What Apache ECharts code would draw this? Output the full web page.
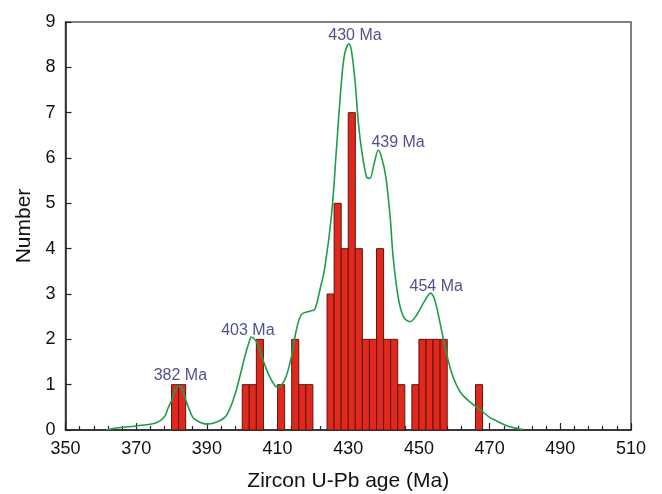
<!DOCTYPE html>
<html>
<head>
<meta charset="utf-8">
<script src="https://cdn.jsdelivr.net/npm/echarts@6/dist/echarts.min.js"></script>
<style>html,body{margin:0;padding:0;background:#fff;}#c{width:662px;height:494px;}</style>
</head>
<body>
<div id="c"></div>
<script>
// Histogram bins (start age, Ma) and counts
var binStart = [380, 382, 400, 402, 404, 410, 414, 416, 418, 424, 426, 428, 430, 432, 434, 436, 438, 440, 442, 444, 448, 450, 452, 454, 456, 466];
var binCount = [1, 1, 1, 1, 2, 1, 2, 1, 1, 3, 5, 4, 7, 4, 2, 2, 4, 2, 2, 1, 1, 2, 2, 2, 2, 1];
var binWidth = 2;

// Probability density curve
var kdeAge = [361.5, 365, 370, 375.7, 378, 379, 380, 381, 382.1, 383, 384.2, 385.2, 386.1, 388, 390, 393, 395.5, 397.9, 399.3, 400.7, 401.8, 402.6, 403.5, 404.5, 405.9, 407.8, 410, 412, 413.9, 415.3, 416.8, 419, 420.5, 422, 423.4, 425.3, 426.7, 428.1, 429, 430.2, 430.9, 431.9, 432.8, 433.8, 435.2, 436.1, 437.3, 438.5, 439.4, 440.6, 441.8, 442.7, 444.1, 445.6, 447.5, 449.3, 451.7, 453.3, 454.5, 456, 457.4, 459.3, 461.6, 464.4, 467.3, 470, 472, 475, 478, 479.5];
var kdeValue = [0.0, 0.05, 0.09, 0.16, 0.29, 0.48, 0.65, 0.87, 0.97, 0.9, 0.62, 0.42, 0.27, 0.17, 0.13, 0.18, 0.32, 0.77, 1.17, 1.61, 1.9, 2.05, 2.0, 1.87, 1.54, 1.17, 0.94, 1.1, 1.61, 2.2, 2.55, 2.62, 2.66, 3.1, 3.6, 4.77, 6.24, 7.71, 8.3, 8.52, 8.37, 7.71, 6.83, 6.17, 5.58, 5.55, 5.87, 6.17, 6.02, 5.6, 4.75, 3.82, 2.94, 2.5, 2.39, 2.53, 2.86, 3.02, 2.86, 2.35, 1.83, 1.25, 0.85, 0.62, 0.45, 0.28, 0.2, 0.09, 0.03, 0.01];

// Peak annotations
var peakText = ['382 Ma', '403 Ma', '430 Ma', '439 Ma', '454 Ma'];
var peakLabelAge = [382.5, 401.6, 431.9, 444.1, 454.9];
var peakLabelValue = [1.19, 2.19, 8.7, 6.35, 3.16];

// Axis ticks
var xMin = 350, xMax = 510, xStep = 20;
var yMin = 0, yMax = 9, yStep = 1;

var barData = binStart.map(function (s, i) { return [s, s + binWidth, binCount[i]]; });
var kdeData = kdeAge.map(function (a, i) { return [a, kdeValue[i]]; });
var peakData = peakText.map(function (t, i) { return [peakLabelAge[i], peakLabelValue[i], t]; });

var chart = echarts.init(document.getElementById('c'));
var axisFont = 'Liberation Sans, Arial, sans-serif';
chart.setOption({
  animation: false,
  grid: { left: 65.5, right: 31, top: 22, bottom: 64, outerBoundsMode: 'none', containLabel: false, show: true, borderColor: '#555', borderWidth: 1.5, backgroundColor: 'transparent' },
  xAxis: {
    type: 'value', min: xMin, max: xMax, interval: xStep,
    name: 'Zircon U-Pb age (Ma)', nameLocation: 'middle', nameGap: 41,
    nameTextStyle: { fontFamily: axisFont, fontSize: 21, color: '#111' },
    axisLine: { lineStyle: { color: '#222', width: 1.5 } },
    axisTick: { inside: true, length: 7, lineStyle: { color: '#222', width: 1.2 } },
    minorTick: { show: true, splitNumber: 5, length: 4, lineStyle: { color: '#222', width: 1.2 } },
    axisLabel: { fontFamily: axisFont, fontSize: 18, color: '#111', margin: 10 },
    splitLine: { show: false }
  },
  yAxis: {
    type: 'value', min: yMin, max: yMax, interval: yStep,
    name: 'Number', nameLocation: 'middle', nameGap: 27,
    nameTextStyle: { fontFamily: axisFont, fontSize: 21, color: '#111' },
    axisLine: { show: true, lineStyle: { color: '#222', width: 1.5 } },
    axisTick: { show: true, inside: true, length: 6, lineStyle: { color: '#222', width: 1.2 } },
    axisLabel: { fontFamily: axisFont, fontSize: 18, color: '#111', margin: 10 },
    splitLine: { show: false }
  },
  series: [
    {
      type: 'custom',
      data: barData,
      encode: { x: [0, 1], y: 2 },
      renderItem: function (params, api) {
        var p0 = api.coord([api.value(0), api.value(2)]);
        var p1 = api.coord([api.value(1), 0]);
        return {
          type: 'rect',
          shape: { x: p0[0], y: p0[1], width: p1[0] - p0[0], height: p1[1] - p0[1] },
          style: { fill: '#e0281c', stroke: '#5e1610', lineWidth: 1 }
        };
      },
      z: 2
    },
    {
      type: 'line',
      data: kdeData,
      smooth: 0.35,
      showSymbol: false,
      symbol: 'none',
      lineStyle: { color: '#1f9e4a', width: 1.6 },
      z: 3
    },
    {
      type: 'scatter',
      data: peakData,
      symbolSize: 0,
      label: {
        show: true, position: 'inside',
        formatter: function (p) { return p.data[2]; },
        fontFamily: axisFont, fontSize: 16, color: '#24246e'
      },
      z: 4
    }
  ]
});
</script>
</body>
</html>
